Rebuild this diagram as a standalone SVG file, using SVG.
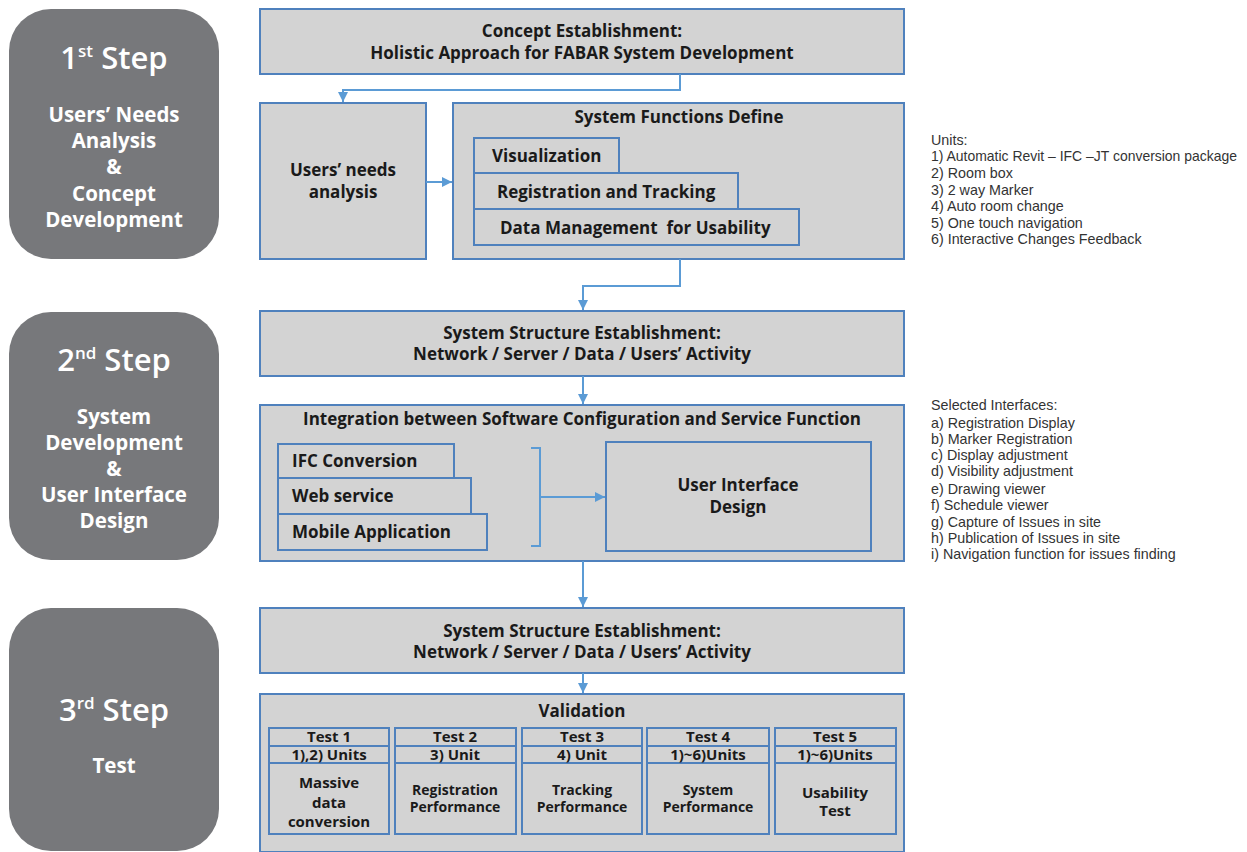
<svg xmlns="http://www.w3.org/2000/svg" width="1247" height="852" viewBox="0 0 1247 852">
<style>
.step{fill:#77787b}
.st{fill:#ffffff;font-family:"Open Sans","Noto Sans",sans-serif;font-weight:700;text-anchor:middle;font-size:20.5px}
.sth{font-size:31px;font-weight:600}
.sup{font-size:17px}
.box{fill:#d3d3d3;stroke:#4f81bd;stroke-width:2}
.t{font-family:"Open Sans","Noto Sans",sans-serif;font-weight:700;fill:#1a1a1a;font-size:17px}
.c{text-anchor:middle}
.sm{font-size:14px}
.md{font-size:15px}
.conn{stroke:#5b9bd5;stroke-width:2;fill:none}
.note{font-family:"Liberation Sans","DejaVu Sans",sans-serif;font-size:14.3px;fill:#333333}
</style>
<defs>
<marker id="ah" markerUnits="userSpaceOnUse" markerWidth="11" markerHeight="11" refX="10" refY="5" orient="auto">
<path d="M0,0 L10,5 L0,10 z" fill="#5b9bd5"/>
</marker>
</defs>
<rect width="1247" height="852" fill="#ffffff"/>

<g id="step1">
<rect class="step" x="9" y="9" width="210" height="250" rx="42"/>
<text class="st sth" x="114" y="69">1<tspan class="sup" dy="-12">st</tspan><tspan dy="12"> Step</tspan></text>
<text class="st" x="114" y="122">Users’ Needs</text>
<text class="st" x="114" y="148">Analysis</text>
<text class="st" x="114" y="174">&amp;</text>
<text class="st" x="114" y="201">Concept</text>
<text class="st" x="114" y="227">Development</text>
</g>

<g id="step2">
<rect class="step" x="9" y="312" width="210" height="248" rx="42"/>
<text class="st sth" x="114" y="371">2<tspan class="sup" dy="-12">nd</tspan><tspan dy="12"> Step</tspan></text>
<text class="st" x="114" y="424">System</text>
<text class="st" x="114" y="450">Development</text>
<text class="st" x="114" y="476">&amp;</text>
<text class="st" x="114" y="502">User Interface</text>
<text class="st" x="114" y="528">Design</text>
</g>

<g id="step3">
<rect class="step" x="9" y="608" width="210" height="243" rx="42"/>
<text class="st sth" x="114" y="721">3<tspan class="sup" dy="-12">rd</tspan><tspan dy="12"> Step</tspan></text>
<text class="st" x="114" y="773">Test</text>
</g>

<g id="concept">
<rect class="box" x="260" y="9" width="644" height="65"/>
<text class="t c" x="582" y="37">Concept Establishment:</text>
<text class="t c" x="582" y="59">Holistic Approach for FABAR System Development</text>
</g>

<g id="users-needs">
<rect class="box" x="260" y="103" width="166" height="156"/>
<text class="t c" x="343" y="176">Users’ needs</text>
<text class="t c" x="343" y="198">analysis</text>
</g>

<g id="system-functions">
<rect class="box" x="453" y="103" width="451" height="156"/>
<text class="t c" x="679" y="123">System Functions Define</text>
<rect class="box" x="474" y="138" width="145" height="35"/>
<text class="t" x="492" y="162">Visualization</text>
<rect class="box" x="474" y="173" width="264" height="36"/>
<text class="t" x="497" y="198">Registration and Tracking</text>
<rect class="box" x="474" y="209" width="325" height="36"/>
<text class="t" x="500" y="234" xml:space="preserve">Data Management  for Usability</text>
</g>

<g id="structure1">
<rect class="box" x="260" y="311" width="644" height="65"/>
<text class="t c" x="582" y="339">System Structure Establishment:</text>
<text class="t c" x="582" y="360">Network / Server / Data / Users’ Activity</text>
</g>

<g id="integration">
<rect class="box" x="260" y="405" width="644" height="156"/>
<text class="t c" x="582" y="425">Integration between Software Configuration and Service Function</text>
<rect class="box" x="278" y="444" width="176" height="34"/>
<text class="t" x="292" y="467">IFC Conversion</text>
<rect class="box" x="278" y="478" width="193" height="36"/>
<text class="t" x="292" y="502">Web service</text>
<rect class="box" x="278" y="514" width="209" height="36"/>
<text class="t" x="292" y="538">Mobile Application</text>
<rect class="box" x="606" y="442" width="265" height="109"/>
<text class="t c" x="738" y="491">User Interface</text>
<text class="t c" x="738" y="513">Design</text>
</g>

<g id="structure2">
<rect class="box" x="260" y="608" width="644" height="65"/>
<text class="t c" x="582" y="637">System Structure Establishment:</text>
<text class="t c" x="582" y="658">Network / Server / Data / Users’ Activity</text>
</g>

<g id="validation">
<rect class="box" x="260" y="694" width="644" height="158"/>
<text class="t c" x="582" y="717">Validation</text>
</g>

<g id="test1">
<rect class="box" x="269" y="728" width="120" height="106"/>
<line class="box" x1="269" y1="746" x2="389" y2="746"/>
<line class="box" x1="269" y1="763" x2="389" y2="763"/>
<text class="t c md" x="329" y="742">Test 1</text>
<text class="t c md" x="329" y="760">1),2) Units</text>
<text class="t c md" x="329" y="788">Massive</text>
<text class="t c md" x="329" y="808">data</text>
<text class="t c md" x="329" y="827">conversion</text>
</g>

<g id="test2">
<rect class="box" x="395" y="728" width="121" height="106"/>
<line class="box" x1="395" y1="746" x2="516" y2="746"/>
<line class="box" x1="395" y1="763" x2="516" y2="763"/>
<text class="t c md" x="455" y="742">Test 2</text>
<text class="t c md" x="455" y="760">3) Unit</text>
<text class="t c sm" x="455" y="795">Registration</text>
<text class="t c sm" x="455" y="812">Performance</text>
</g>

<g id="test3">
<rect class="box" x="522" y="728" width="120" height="106"/>
<line class="box" x1="522" y1="746" x2="642" y2="746"/>
<line class="box" x1="522" y1="763" x2="642" y2="763"/>
<text class="t c md" x="582" y="742">Test 3</text>
<text class="t c md" x="582" y="760">4) Unit</text>
<text class="t c sm" x="582" y="795">Tracking</text>
<text class="t c sm" x="582" y="812">Performance</text>
</g>

<g id="test4">
<rect class="box" x="647" y="728" width="122" height="106"/>
<line class="box" x1="647" y1="746" x2="769" y2="746"/>
<line class="box" x1="647" y1="763" x2="769" y2="763"/>
<text class="t c md" x="708" y="742">Test 4</text>
<text class="t c md" x="708" y="760">1)~6)Units</text>
<text class="t c sm" x="708" y="795">System</text>
<text class="t c sm" x="708" y="812">Performance</text>
</g>

<g id="test5">
<rect class="box" x="775" y="728" width="121" height="106"/>
<line class="box" x1="775" y1="746" x2="896" y2="746"/>
<line class="box" x1="775" y1="763" x2="896" y2="763"/>
<text class="t c md" x="835" y="742">Test 5</text>
<text class="t c md" x="835" y="760">1)~6)Units</text>
<text class="t c md" x="835" y="798">Usability</text>
<text class="t c md" x="835" y="816">Test</text>
</g>

<g id="connectors">
<path class="conn" d="M680,74 V90 H343 V102" marker-end="url(#ah)"/>
<path class="conn" d="M426,182 H452" marker-end="url(#ah)"/>
<path class="conn" d="M680,259 V286 H583 V310" marker-end="url(#ah)"/>
<path class="conn" d="M583,376 V404" marker-end="url(#ah)"/>
<path class="conn" d="M531,448 H540 V546 H531"/>
<path class="conn" d="M540,497 H605" marker-end="url(#ah)"/>
<path class="conn" d="M583,561 V607" marker-end="url(#ah)"/>
<path class="conn" d="M583,673 V693" marker-end="url(#ah)"/>
</g>

<g id="units-note">
<text class="note" x="931" y="145">Units:</text>
<text class="note" x="931" y="161" textLength="306" lengthAdjust="spacingAndGlyphs">1) Automatic Revit – IFC –JT conversion package</text>
<text class="note" x="931" y="178">2) Room box</text>
<text class="note" x="931" y="195">3) 2 way Marker</text>
<text class="note" x="931" y="211">4) Auto room change</text>
<text class="note" x="931" y="228">5) One touch navigation</text>
<text class="note" x="931" y="244">6) Interactive Changes Feedback</text>
</g>

<g id="interfaces-note">
<text class="note" x="931" y="410">Selected Interfaces:</text>
<text class="note" x="931" y="428">a) Registration Display</text>
<text class="note" x="931" y="444">b) Marker Registration</text>
<text class="note" x="931" y="460">c) Display adjustment</text>
<text class="note" x="931" y="476">d) Visibility adjustment</text>
<text class="note" x="931" y="494">e) Drawing viewer</text>
<text class="note" x="931" y="510">f) Schedule viewer</text>
<text class="note" x="931" y="527">g) Capture of Issues in site</text>
<text class="note" x="931" y="543">h) Publication of Issues in site</text>
<text class="note" x="931" y="559">i) Navigation function for issues finding</text>
</g>
</svg>
